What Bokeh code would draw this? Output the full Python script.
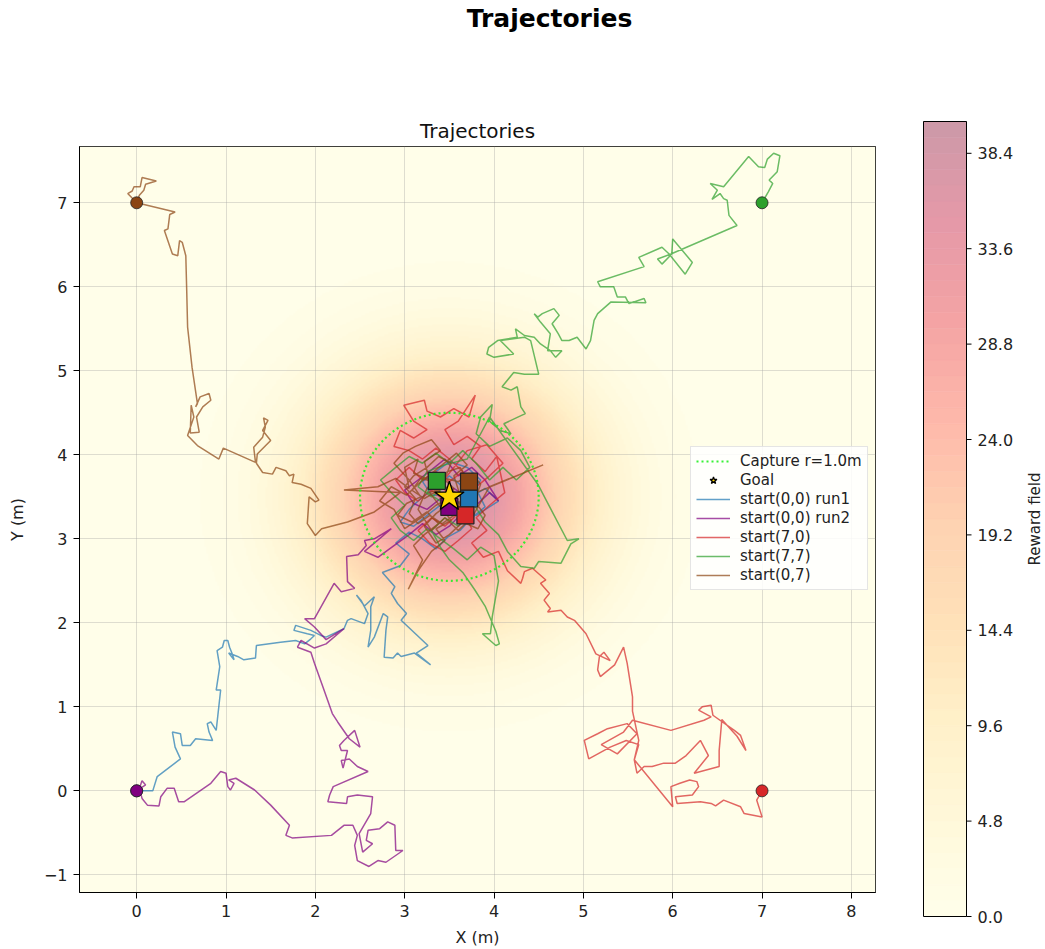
import numpy as np
from bokeh.plotting import figure
from bokeh.layouts import row, column
from bokeh.models import Range1d, Legend, LegendItem, FixedTicker, LinearColorMapper
from bokeh.palettes import YlOrRd9
from bokeh.core.properties import value
from bokeh.embed import file_html
from bokeh.resources import INLINE

FONT = "DejaVu Sans"

# ---------------------------------------------------------------- scene
goal_x, goal_y = 3.5, 3.5
capture_r = 1.0
field_peak = 40.0
field_sigma = 1.0
field_alpha = 0.4

x_lim = (-0.64, 8.27)
y_lim = (-1.21, 7.67)
x_ticks = [0, 1, 2, 3, 4, 5, 6, 7, 8]
y_ticks = [-1, 0, 1, 2, 3, 4, 5, 6, 7]
cbar_ticks = [0.0, 4.8, 9.6, 14.4, 19.2, 24.0, 28.8, 33.6, 38.4]

# ---------------------------------------------------------------- runs, (x, y) in metres
run1 = [(0.00, 0.00), (0.08, 0.00), (0.18, 0.00), (0.23, 0.17), (0.49, 0.38), (0.43, 0.52), (0.40, 0.70),
        (0.49, 0.68), (0.51, 0.54), (0.60, 0.54), (0.66, 0.62), (0.85, 0.60), (0.81, 0.70), (0.79, 0.80),
        (0.83, 0.82), (0.89, 0.72), (0.94, 1.20), (0.89, 1.20), (0.93, 1.48), (0.90, 1.67), (0.96, 1.71),
        (0.98, 1.79), (1.02, 1.79), (1.04, 1.71), (1.07, 1.63), (1.09, 1.56), (1.03, 1.64), (1.13, 1.60),
        (1.20, 1.56), (1.33, 1.58), (1.34, 1.73), (1.61, 1.77), (1.78, 1.79), (1.88, 1.75), (1.95, 1.81),
        (1.99, 1.85), (1.91, 1.87), (1.76, 1.91), (1.78, 1.97), (1.95, 1.91), (2.06, 1.85), (2.12, 1.83),
        (2.32, 1.93), (2.36, 2.03), (2.40, 2.05), (2.55, 1.99), (2.59, 2.11), (2.51, 2.27), (2.46, 2.33),
        (2.55, 2.20), (2.66, 2.31), (2.62, 2.19), (2.62, 1.91), (2.59, 1.71), (2.66, 1.83), (2.76, 2.11),
        (2.81, 2.07), (2.79, 1.91), (2.77, 1.59), (2.87, 1.58), (2.92, 1.64), (2.96, 1.60), (3.11, 1.64),
        (3.29, 1.50), (3.13, 1.64), (3.26, 1.73), (2.96, 2.03), (3.02, 2.11), (2.92, 2.23), (2.85, 2.35),
        (2.89, 2.43), (2.75, 2.60), (2.95, 2.68), (3.05, 2.82), (2.90, 2.95), (3.05, 3.08), (3.20, 3.00),
        (3.35, 2.88), (3.48, 3.02), (3.62, 3.10), (3.75, 3.25), (3.90, 3.38), (3.82, 3.55), (3.65, 3.62),
        (3.50, 3.75), (3.35, 3.62), (3.20, 3.50), (3.05, 3.35), (2.95, 3.20), (3.10, 3.15), (3.25, 3.28),
        (3.40, 3.40), (3.55, 3.32), (3.70, 3.45), (3.85, 3.70), (3.70, 3.85), (3.50, 3.92), (3.35, 3.80),
        (3.20, 3.68), (3.30, 3.52), (3.48, 3.52), (3.65, 3.40), (3.80, 3.28), (4.05, 3.45), (3.90, 3.60),
        (3.72, 3.48)]

run2 = [(0.00, 0.00), (0.10, 0.07), (0.06, 0.12), (0.03, 0.03), (0.06, -0.09), (0.12, -0.17), (0.25, -0.18),
        (0.27, -0.07), (0.34, 0.03), (0.42, 0.03), (0.47, -0.13), (0.53, -0.13), (0.83, 0.09), (0.94, 0.23),
        (1.00, 0.21), (1.02, 0.05), (1.05, 0.01), (1.09, 0.09), (1.03, 0.13), (1.11, 0.15), (1.32, 0.01),
        (1.50, -0.17), (1.71, -0.41), (1.67, -0.53), (1.74, -0.56), (2.18, -0.53), (2.32, -0.41), (2.42, -0.41),
        (2.47, -0.53), (2.44, -0.65), (2.47, -0.83), (2.60, -0.90), (2.70, -0.83), (2.79, -0.85), (2.98, -0.71),
        (2.90, -0.71), (2.89, -0.41), (2.81, -0.37), (2.72, -0.45), (2.59, -0.47), (2.57, -0.59), (2.64, -0.63),
        (2.53, -0.73), (2.49, -0.51), (2.62, -0.27), (2.64, -0.07), (2.47, -0.05), (2.36, -0.07), (2.35, -0.15),
        (2.14, -0.13), (2.16, -0.05), (2.20, 0.05), (2.59, 0.23), (2.47, 0.29), (2.38, 0.38), (2.29, 0.36),
        (2.31, 0.27), (2.36, 0.48), (2.29, 0.48), (2.27, 0.54), (2.32, 0.60), (2.44, 0.72), (2.50, 0.52),
        (2.38, 0.62), (2.25, 0.82), (2.19, 0.92), (2.08, 1.25), (1.99, 1.52), (1.95, 1.65), (1.80, 1.71),
        (1.84, 1.79), (1.99, 1.70), (2.12, 1.75), (2.32, 1.93), (2.12, 1.80), (1.99, 1.95), (1.88, 2.05),
        (1.99, 2.05), (2.21, 2.47), (2.29, 2.37), (2.44, 2.41), (2.36, 2.49), (2.35, 2.79), (2.48, 2.81),
        (2.57, 2.92), (2.55, 2.98), (2.66, 3.00), (2.85, 3.12), (2.55, 2.85), (2.70, 2.78), (2.88, 2.92),
        (3.05, 3.05), (3.20, 3.18), (3.35, 3.05), (3.50, 3.15), (3.62, 3.28), (3.80, 3.40), (3.95, 3.55),
        (4.05, 3.45), (3.90, 3.70), (3.75, 3.85), (3.60, 3.75), (3.45, 3.95), (3.30, 3.82), (3.15, 3.70),
        (3.00, 3.58), (3.10, 3.42), (3.25, 3.35), (3.40, 3.48), (3.55, 3.60), (3.70, 3.50), (3.62, 3.35),
        (3.50, 3.38)]

run3 = [(7.00, 0.00), (6.94, -0.11), (7.00, -0.31), (6.80, -0.27), (6.76, -0.19), (6.57, -0.11), (6.48, -0.18),
        (6.43, -0.15), (6.31, -0.13), (6.05, -0.15), (6.03, -0.07), (6.22, -0.05), (6.29, 0.05), (6.27, 0.11),
        (6.19, 0.13), (6.08, 0.09), (5.98, 0.05), (6.00, -0.19), (5.57, 0.37), (5.62, 0.55), (5.48, 0.60),
        (5.30, 0.52), (5.06, 0.38), (5.01, 0.60), (5.16, 0.68), (5.27, 0.74), (5.49, 0.80), (5.60, 0.68),
        (5.38, 0.44), (5.20, 0.55), (5.45, 0.70), (5.55, 0.84), (5.98, 0.72), (6.35, 0.84), (6.43, 0.88),
        (6.29, 0.96), (6.33, 1.00), (6.43, 1.02), (6.45, 0.90), (6.69, 0.72), (6.76, 0.66), (6.82, 0.48),
        (6.72, 0.65), (6.55, 0.85), (6.52, 0.48), (6.52, 0.29), (6.24, 0.21), (6.40, 0.42), (6.31, 0.60),
        (6.15, 0.42), (6.03, 0.33), (5.90, 0.33), (5.77, 0.29), (5.68, 0.29), (5.60, 0.21), (5.57, 0.37),
        (5.62, 0.60), (5.55, 0.95), (5.55, 1.12), (5.49, 1.52), (5.45, 1.71), (5.35, 1.50), (5.19, 1.36),
        (5.16, 1.44), (5.18, 1.60), (5.23, 1.65), (5.30, 1.55), (5.14, 1.63), (5.03, 1.87), (4.90, 2.03),
        (4.82, 2.07), (4.75, 2.15), (4.60, 2.13), (4.63, 2.17), (4.56, 2.27), (4.62, 2.35), (4.52, 2.47),
        (4.58, 2.51), (4.43, 2.65), (4.34, 2.61), (4.32, 2.53), (4.30, 2.47), (4.15, 2.62), (4.05, 2.85),
        (3.88, 2.78), (3.75, 2.95), (3.92, 3.10), (3.80, 3.25), (3.95, 3.40), (4.12, 3.55), (4.03, 3.98),
        (3.90, 3.80), (3.75, 3.95), (3.85, 4.10), (3.70, 4.22), (3.55, 4.12), (3.45, 4.30), (3.60, 4.40),
        (3.79, 4.71), (3.72, 4.45), (3.55, 4.55), (3.40, 4.45), (3.25, 4.52), (3.22, 4.65), (2.99, 4.59),
        (3.10, 4.40), (3.25, 4.30), (3.10, 4.20), (2.95, 4.29), (2.88, 4.10), (3.05, 4.05), (3.20, 3.95),
        (3.35, 4.08), (3.50, 3.95), (3.65, 3.80), (3.50, 3.68), (3.35, 3.80), (3.20, 3.70), (3.05, 3.85),
        (2.90, 3.70), (3.00, 3.55), (3.15, 3.45), (3.30, 3.58), (3.45, 3.45), (3.60, 3.30), (3.45, 3.15),
        (3.30, 3.25), (3.15, 3.10), (3.28, 2.95), (3.45, 2.85), (3.60, 2.98), (3.75, 3.12), (3.62, 3.40),
        (3.78, 3.60), (3.95, 3.75), (4.10, 3.90), (3.92, 4.12), (3.70, 4.05), (3.55, 3.85), (3.40, 3.65),
        (3.55, 3.45), (3.68, 3.28)]

run4 = [(7.00, 7.00), (7.07, 7.13), (7.12, 7.23), (7.08, 7.27), (7.17, 7.37), (7.20, 7.56), (7.13, 7.59),
        (7.06, 7.52), (7.03, 7.42), (6.96, 7.43), (6.85, 7.55), (6.57, 7.19), (6.42, 7.23), (6.50, 7.15),
        (6.44, 7.04), (6.53, 7.11), (6.57, 7.05), (6.61, 7.03), (6.63, 6.85), (6.72, 6.73), (5.98, 6.39),
        (5.83, 6.33), (5.88, 6.27), (5.99, 6.39), (6.00, 6.57), (6.22, 6.29), (6.14, 6.15), (5.96, 6.39),
        (5.88, 6.47), (5.62, 6.35), (5.68, 6.24), (5.16, 6.06), (5.19, 6.00), (5.34, 6.00), (5.38, 5.88),
        (5.47, 5.88), (5.51, 5.80), (5.68, 5.86), (5.70, 5.81), (5.31, 5.82), (5.16, 5.68), (5.12, 5.60),
        (5.08, 5.36), (5.03, 5.26), (4.93, 5.40), (4.84, 5.36), (4.76, 5.36), (4.72, 5.44), (4.65, 5.56),
        (4.73, 5.66), (4.67, 5.74), (4.54, 5.68), (4.49, 5.64), (4.45, 5.68), (4.52, 5.58), (4.63, 5.44),
        (4.60, 5.24), (4.76, 5.24), (4.69, 5.16), (4.63, 5.24), (4.52, 5.32), (4.45, 5.40), (4.34, 5.42),
        (4.24, 5.50), (4.26, 5.40), (4.04, 5.36), (3.94, 5.28), (3.92, 5.20), (4.00, 5.16), (4.22, 5.20),
        (4.07, 5.36), (4.34, 5.40), (4.41, 5.36), (4.50, 4.96), (4.34, 4.96), (4.22, 4.98), (4.09, 4.81),
        (4.19, 4.77), (4.26, 4.81), (4.30, 4.57), (4.35, 4.49), (4.11, 4.37), (4.19, 4.25), (4.07, 4.29),
        (3.95, 4.40), (3.98, 4.60), (3.85, 4.45), (3.80, 4.25), (3.95, 4.10), (4.15, 4.20), (4.30, 4.05),
        (4.40, 3.85), (4.25, 3.70), (4.10, 3.85), (3.95, 3.70), (3.80, 3.90), (3.65, 4.05), (3.50, 3.90),
        (3.35, 4.02), (3.20, 3.90), (3.05, 3.98), (2.90, 3.85), (2.73, 3.70), (2.85, 3.55), (3.00, 3.40),
        (2.85, 3.25), (2.95, 3.10), (3.10, 2.98), (3.25, 3.12), (3.40, 3.00), (3.55, 2.88), (3.70, 2.75),
        (3.85, 2.90), (4.00, 2.80), (4.05, 2.50), (3.98, 2.07), (3.96, 1.87), (3.87, 1.87), (4.02, 1.73),
        (4.06, 1.75), (4.02, 1.90), (3.90, 2.20), (3.78, 2.40), (3.65, 2.60), (3.50, 2.75), (3.40, 2.90),
        (3.30, 3.10), (3.45, 3.25), (3.60, 3.15), (3.75, 3.30), (3.62, 3.50), (3.45, 3.62), (3.30, 3.50),
        (3.15, 3.62), (3.25, 3.80), (3.45, 3.88), (3.70, 3.95), (3.95, 4.45), (4.49, 3.65), (4.82, 2.98),
        (4.95, 3.00), (4.86, 2.94), (4.75, 2.71), (4.50, 2.73), (4.45, 2.65), (4.30, 2.67), (4.15, 2.85),
        (4.05, 3.05), (3.90, 3.20), (3.75, 3.45), (3.55, 3.55), (3.40, 3.45), (3.25, 3.55), (3.36, 3.69)]

run5 = [(0.00, 7.00), (-0.10, 7.11), (-0.05, 7.14), (-0.03, 7.19), (0.04, 7.19), (0.06, 7.30), (0.22, 7.26),
        (0.10, 7.22), (0.08, 7.15), (0.03, 7.09), (0.00, 7.00), (0.43, 6.89), (0.37, 6.86), (0.35, 6.69),
        (0.31, 6.67), (0.40, 6.39), (0.46, 6.37), (0.48, 6.55), (0.51, 6.53), (0.55, 6.37), (0.56, 5.96),
        (0.57, 5.52), (0.62, 5.04), (0.68, 4.61), (0.66, 4.57), (0.71, 4.69), (0.81, 4.73), (0.83, 4.65),
        (0.74, 4.57), (0.67, 4.45), (0.70, 4.27), (0.60, 4.26), (0.61, 4.59), (0.64, 4.45), (0.57, 4.23),
        (0.68, 4.11), (0.92, 3.95), (0.97, 4.08), (1.33, 3.91), (1.31, 4.09), (1.41, 4.21), (1.44, 4.33),
        (1.42, 4.44), (1.47, 4.41), (1.41, 4.29), (1.50, 4.17), (1.35, 4.01), (1.34, 3.90), (1.41, 3.79),
        (1.52, 3.77), (1.56, 3.85), (1.67, 3.81), (1.71, 3.75), (1.76, 3.77), (1.74, 3.67), (1.84, 3.65),
        (1.95, 3.60), (2.04, 3.46), (2.00, 3.44), (1.93, 3.50), (1.91, 3.18), (2.00, 3.04), (2.07, 3.12),
        (2.36, 3.20), (2.66, 3.32), (2.84, 3.46), (2.95, 3.55), (2.32, 3.58), (2.70, 3.62), (2.90, 3.72),
        (3.05, 3.60), (3.00, 3.85), (3.15, 3.95), (3.10, 3.78), (3.28, 3.70), (3.22, 3.92), (3.40, 4.05),
        (3.30, 4.18), (3.12, 4.10), (2.98, 4.02), (2.88, 3.90), (3.05, 3.70), (3.18, 3.50), (3.02, 3.42),
        (2.92, 3.28), (3.08, 3.20), (3.25, 3.32), (3.38, 3.18), (3.22, 3.05), (3.10, 2.92), (3.20, 2.75),
        (3.04, 2.40), (3.15, 2.62), (3.30, 2.85), (3.45, 2.98), (3.35, 3.12), (3.52, 3.22), (3.40, 3.38),
        (3.28, 3.55), (3.45, 3.62), (3.62, 3.52), (3.55, 3.75), (3.70, 3.88), (3.58, 4.02), (3.42, 3.88),
        (3.30, 3.78), (3.15, 3.65), (3.02, 3.52), (2.85, 3.62), (2.72, 3.45), (2.88, 3.35), (3.00, 3.12),
        (3.18, 3.25), (3.35, 3.40), (3.50, 3.48), (3.68, 3.38), (3.80, 3.55), (4.55, 3.88), (3.95, 3.62),
        (3.75, 3.25), (3.60, 3.10), (3.45, 3.25), (3.30, 3.10), (3.15, 3.35), (3.25, 3.60), (3.40, 3.75),
        (3.55, 3.60), (3.48, 3.35), (3.62, 3.45), (3.58, 3.30), (3.42, 3.18), (3.28, 3.28), (3.15, 3.18),
        (3.05, 3.30), (3.12, 3.48), (3.00, 3.62), (3.10, 3.75), (3.25, 3.85), (3.38, 3.98), (3.52, 3.90),
        (3.45, 3.72), (3.60, 3.68), (3.75, 3.78), (3.85, 3.65), (3.78, 3.45), (3.90, 3.28), (3.82, 3.12),
        (3.65, 3.20), (3.50, 3.05), (3.35, 2.95), (3.22, 3.15), (3.35, 3.30), (3.50, 3.42), (3.38, 3.58),
        (3.22, 3.48), (3.08, 3.58), (3.18, 3.72), (3.32, 3.68), (3.48, 3.80), (3.62, 3.85), (3.72, 3.68)]

run_labels = ["start(0,0) run1", "start(0,0) run2", "start(7,0)", "start(7,7)", "start(0,7)"]
run_colors = ["#1f77b4", "#800080", "#d62728", "#2ca02c", "#8b4513"]
runs = [run1, run2, run3, run4, run5]


def no_frame_align(fig):
    try:
        fig.frame_align = False
    except AttributeError:
        pass


# ---------------------------------------------------------------- colour map
def hex_rgb(h):
    h = h.lstrip("#")
    return np.array([int(h[i:i + 2], 16) for i in (0, 2, 4)], dtype=float)


ylorrd = np.array([hex_rgb(c) for c in YlOrRd9[::-1]])      # light -> dark
stops = np.linspace(0, 1, len(ylorrd))
levels = np.linspace(0, field_peak, 51)
mids = (levels[:-1] + levels[1:]) / 2 / field_peak
palette = []
for t in mids:
    rgb = np.array([np.interp(t, stops, ylorrd[:, k]) for k in range(3)])
    rgb = 255 - field_alpha * (255 - rgb)                   # translucent over white
    palette.append("#%02x%02x%02x" % tuple(int(round(v)) for v in rgb))

gx = np.linspace(x_lim[0], x_lim[1], 420)
gy = np.linspace(y_lim[0], y_lim[1], 420)
GX, GY = np.meshgrid(gx, gy)
reward = field_peak * np.exp(-((GX - goal_x) ** 2 + (GY - goal_y) ** 2) / (2 * field_sigma ** 2))
mapper = LinearColorMapper(palette=palette, low=0, high=field_peak)

# ---------------------------------------------------------------- heading strip
head = figure(width=1045, height=40, x_range=Range1d(0, 1045), y_range=Range1d(0, 40),
              x_axis_location=None, y_axis_location=None, toolbar_location=None,
              output_backend="svg", min_border=0, title=None, outline_line_color=None)
no_frame_align(head)
head.grid.visible = False
head.text(x=[549], y=[22], text=["Trajectories"], text_font=value(FONT), text_font_size="25px",
          text_font_style="bold", text_align="center", text_baseline="middle", text_color="black")

# ---------------------------------------------------------------- main axes
p = figure(width=900, height=909, x_range=Range1d(*x_lim), y_range=Range1d(*y_lim),
           output_backend="svg", toolbar_location=None,
           min_border_left=79, min_border_right=25, min_border_top=106, min_border_bottom=56,
           background_fill_color="white", border_fill_color="white")
no_frame_align(p)

p.image(image=[reward], x=x_lim[0], y=y_lim[0], dw=x_lim[1] - x_lim[0], dh=y_lim[1] - y_lim[0],
        color_mapper=mapper, level="image")

p.title.text = "Trajectories"
p.title.align = "center"
p.title.text_font = FONT
p.title.text_font_size = "20px"
p.title.text_font_style = "normal"
p.title.text_color = "#111111"
p.title.standoff = 8

for ax in (p.xaxis, p.yaxis):
    ax.major_label_text_font = FONT
    ax.major_label_text_font_size = "16px"
    ax.major_label_text_color = "#222222"
    ax.axis_label_text_font = FONT
    ax.axis_label_text_font_size = "16px"
    ax.axis_label_text_font_style = "normal"
    ax.axis_label_text_color = "#222222"
    ax.minor_tick_line_color = None
    ax.major_tick_in = 0
    ax.major_tick_out = 6
    ax.major_tick_line_color = "black"
    ax.axis_line_color = "black"
    ax.major_label_standoff = 6

p.xaxis.ticker = FixedTicker(ticks=x_ticks)
p.yaxis.ticker = FixedTicker(ticks=y_ticks)
p.yaxis.major_label_overrides = {-1: "\u22121"}
p.xaxis.axis_label = "X (m)"
p.yaxis.axis_label = "Y (m)"
p.xaxis.axis_label_standoff = 8
p.yaxis.axis_label_standoff = 14

p.grid.grid_line_color = "#a0a0a0"
p.grid.grid_line_alpha = 0.35
p.outline_line_color = "black"
p.outline_line_alpha = 1.0

# trajectories
line_rs = []
for pts, col in zip(runs, run_colors):
    xs = [q[0] for q in pts]
    ys = [q[1] for q in pts]
    line_rs.append(p.line(xs, ys, line_color=col, line_alpha=0.7, line_width=1.5))

# capture zone outline
theta = np.linspace(0, 2 * np.pi, 240)
cap = p.line(goal_x + capture_r * np.cos(theta), goal_y + capture_r * np.sin(theta),
             line_color="#22ee22", line_alpha=0.9, line_width=2.2, line_dash="2 3")

# start and end markers
for pts, col in zip(runs, run_colors):
    p.scatter([pts[0][0]], [pts[0][1]], marker="circle", size=12, fill_color=col,
              line_color="#222222", line_width=0.8)
for pts, col in zip(runs, run_colors):
    p.scatter([pts[-1][0]], [pts[-1][1]], marker="square", size=17, fill_color=col,
              line_color="#222222", line_width=1.2)

star = p.scatter([goal_x], [goal_y], marker="star", size=31, fill_color="#ffd700",
                 line_color="black", line_width=1.3)

items = [LegendItem(label="Capture r=1.0m", renderers=[cap]),
         LegendItem(label="Goal", renderers=[star])]
for lab, r in zip(run_labels, line_rs):
    items.append(LegendItem(label=lab, renderers=[r]))
legend = Legend(items=items, location=(611, 302))
legend.label_text_font = FONT
legend.label_text_font_size = "15px"
legend.label_text_color = "#222222"
legend.glyph_width = 34
legend.glyph_height = 18
legend.label_height = 18
legend.label_standoff = 10
legend.spacing = 1
legend.padding = 5
legend.margin = 0
legend.border_line_color = "#cccccc"
legend.background_fill_alpha = 0.85
p.add_layout(legend, "center")

# ---------------------------------------------------------------- colour bar strip
# bar occupies x in [0, 1]; y is the reward value
bar_px = 43.0
val_px = 795.0 / field_peak
cb = figure(width=145, height=909,
            x_range=Range1d(-23 / bar_px, 1 + 79 / bar_px),
            y_range=Range1d(-33 / val_px, field_peak + 81 / val_px),
            x_axis_location=None, y_axis_location=None, toolbar_location=None,
            output_backend="svg", min_border=0, title=None, outline_line_color=None)
no_frame_align(cb)
cb.grid.visible = False
cb.quad(left=0, right=1, bottom=levels[:-1], top=levels[1:], fill_color=palette,
        line_color=palette, line_width=0.6)
cb.quad(left=[0], right=[1], bottom=[0], top=[field_peak], fill_color=None,
        line_color="black", line_width=1)
cb.segment(x0=[1] * len(cbar_ticks), x1=[1 + 5 / bar_px] * len(cbar_ticks),
           y0=cbar_ticks, y1=cbar_ticks, line_color="black", line_width=1)
cb.text(x=[1 + 11 / bar_px] * len(cbar_ticks), y=cbar_ticks, text=["%.1f" % t for t in cbar_ticks],
        text_font=value(FONT), text_font_size="16px", text_color="#222222",
        text_align="left", text_baseline="middle")
cb.text(x=[(1034 - 923) / bar_px], y=[field_peak / 2], text=["Reward field"], angle=90, angle_units="deg",
        text_font=value(FONT), text_font_size="15px", text_color="#222222",
        text_align="center", text_baseline="middle")

layout = column(head, row(p, cb))
open("out.html", "w").write(file_html(layout, INLINE))
